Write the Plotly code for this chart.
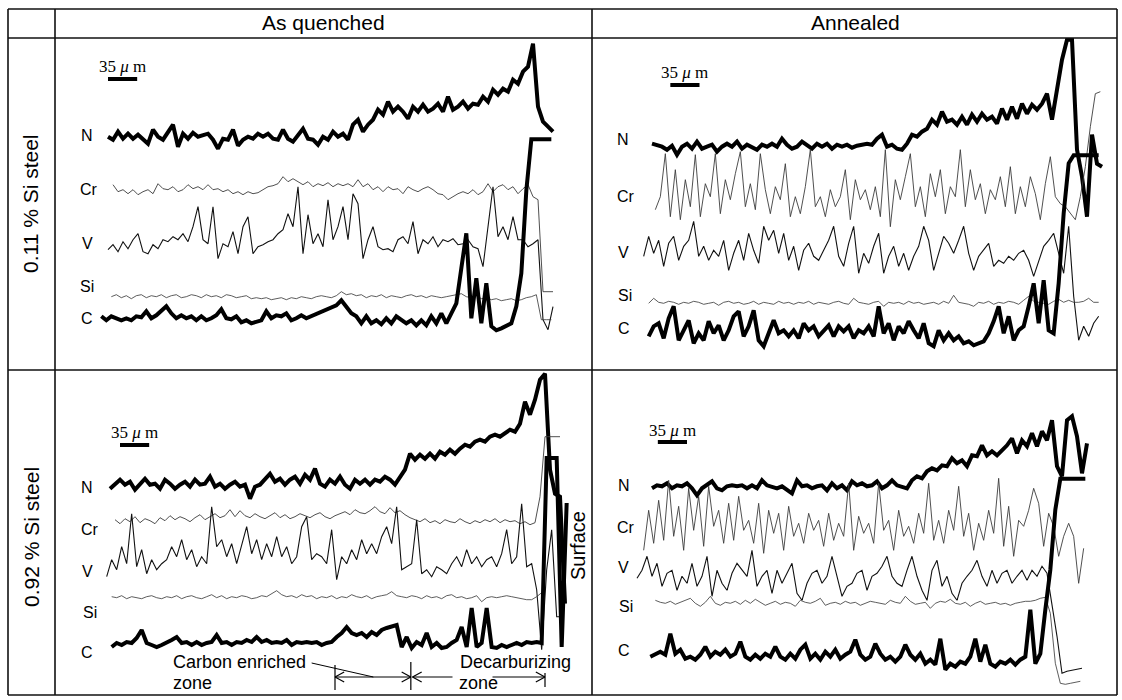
import plotly.graph_objects as go

W, H = 1122, 700
PX_PER_UM = 5 / 6          # drawing scale: 35 um ~ 29 px
STEP_UM = 6.0              # line-scan sampling step

# ---------------- data (intensity, a.u., relative to each element's level) ----------------
# 0.11 % Si steel, as quenched
TL_N = [0, -3, 5, -2, 3, -2, 2, -3, -7, 7, 0, -3, 5, 12, -10, 3, -2, 4, 0, 2, 3, -3, -12, -2, -3, 7, -9, -3, 0, -2,
        3, 0, 3, -2, -3, 7, -2, -5, 2, 8, -2, -3, -8, 0, -3, 5, 0, 3, -3, 12, 17, 5, 12, 17, 27, 22, 35, 25, 30, 25,
        18, 30, 25, 32, 25, 28, 33, 25, 40, 27, 30, 35, 28, 33, 32, 40, 35, 47, 42, 48, 45, 57, 53, 65, 70, 93, 30, 15, 10, 5]
TL_CR = [6, -1, 1, -3, 1, -4, -1, 1, -3, 7, 2, 1, 4, -1, 1, 6, 2, 4, 1, 6, 1, 2, -1, 1, -3, -1, -4, -1, -3, -2,
         1, 4, 5, 7, 14, 9, 12, 9, 6, 9, 4, 7, 5, 8, 4, 7, 5, 7, 4, 11, 4, 7, 1, 4, -1, 4, 1, 2, -3, 4,
         1, -1, 2, 4, 1, -3, -4, -9, -6, -3, -1, -3, 1, -4, -1, 7, -1, 4, 6, 1, 4, -3, 2, 6, -6, -9, -101, -101, -101]
TL_V = [-3, 2, -5, 5, -2, 7, 13, -5, -7, 2, -2, 7, 5, 10, 7, 13, 5, 20, 40, 7, 3, 40, -12, 3, 0, 15, -7, 20, 30, -7,
        0, 2, 5, 7, 13, 17, 33, 20, 60, -7, 32, 3, 13, 0, 47, 7, 20, 40, 7, 53, 43, -12, 7, 20, 0, -3, -2, -5, 7, 10,
        3, 25, -7, 7, 3, 10, 0, 7, 5, 8, 2, 3, 7, 0, -2, -20, 20, 60, 10, 20, 7, 30, 7, 7, 0, 3, 7, -73, -83, -60]
TL_SI = [0, 2, -1, 1, -2, 1, 2, -1, 1, 0, 2, -1, 1, 2, -1, 0, 2, 1, -1, 2, 0, 1, -1, 2, 1, -1, 0, 1, -2, -1,
         -2, -1, -3, -2, -1, -3, -1, -2, 0, -1, -2, 0, 1, 0, -1, 1, 5, 2, 3, 1, 2, -1, 1, 0, 2, -1, 1, 0, -1, 1,
         2, 0, 1, -1, 1, 0, -1, 0, 1, 2, 3, 0, -1, 1, -2, -1, -3, -2, -4, -3, -2, -4, -3, -1, 0, 2, -23, -23, -23]
TL_C = [2, -2, 2, 0, -2, 0, -2, 2, 1, 7, 0, 3, 7, 12, 5, 0, 3, 0, 2, -2, 2, -2, 0, 3, 9, 0, -1, 2, -4, -2,
        -5, -3, -2, 7, 0, 3, 2, 5, -2, 0, 3, 0, 2, 5, 7, 8, 10, 13, 18, 12, 5, 2, -5, 2, -5, -2, -6, 0, -5, 2,
        -2, -5, -2, -7, -2, -7, 2, -5, 5, -5, 5, 15, 50, 85, 0, 40, -5, 35, -8, -12, -10, -8, -5, 12, 45, 128,
        179, 179, 179, 179, 179]

# 0.11 % Si steel, annealed
TR_N = [3, 2, 0, -3, 1, -8, 0, 3, -2, 5, -2, 0, 2, -5, 0, 3, 0, 5, -2, 2, 0, -3, 2, 0, 3, 0, 8, 2, -2, 0,
        5, 2, -2, 3, 0, 3, -2, 2, 0, 2, -1, 1, 2, 3, 2, 8, 12, 0, 2, -2, -3, 3, 12, 10, 15, 18, 27, 22, 35, 25,
        27, 22, 30, 22, 32, 25, 33, 27, 30, 23, 38, 27, 40, 28, 43, 33, 42, 37, 43, 53, 27, 57, 87, 107, 107,
        -3, -30, -70, 12, -17, -20]
TR_CR = [-3, 10, 53, -10, 37, -13, 27, 0, 52, -10, 23, 10, 53, -7, 27, 7, 33, 55, 0, 23, -3, 53, 17, -7, 20, 7, 43, -10, 10, -7,
         20, 57, 0, 10, -10, 17, 0, 10, 37, -13, 27, 7, 17, -3, 20, -10, 57, -20, 27, 7, 30, 53, 0, 20, -10, 33, 10, 37, -7, 20,
         10, 57, 0, 37, 7, 23, -7, 17, 7, 30, 0, 40, -7, 20, 0, 30, 13, -13, 23, 50, 10, 3, 0, -7, -13, 10, 40, 80, 113, 115]
TR_V = [-3, 17, 0, 13, -13, 10, 17, -7, 7, 13, 32, -3, 7, -7, 3, -3, 13, -17, 0, 13, -7, 20, 3, -10, 27, 13, 23, 0, 20, -7,
        7, -17, 3, 10, -3, -7, 3, 13, 27, -3, -13, 10, 27, -20, 0, -10, 7, 20, -20, -3, 7, -13, 0, -17, -3, 7, 27, 13, -17, 0,
        17, 10, 0, 13, 27, 0, -17, -3, 3, 10, -13, -7, -10, -3, -7, 0, 3, -7, -23, -7, 7, 13, 20, 0, -20, 27,
        -43, -87, -73, -83, -70, -63]
TR_SI = [0, 5, 1, 0, 2, 1, -1, 1, 0, 2, 1, -1, 0, 1, -2, 1, 2, 0, 1, -1, 0, 2, -1, 1, 0, -1, 2, 0, 1, -1,
         1, 0, 2, -1, 1, 0, -1, 1, 2, 0, -1, 5, 1, 0, -1, 1, 2, -3, 1, 0, 1, -1, 2, 0, 1, -1, 0, 1, -1, 2,
         0, 8, 1, 0, -1, -3, 1, 0, 2, -1, 1, 0, 2, 1, -1, 3, 7, 2, 1, 0, -1, 2, 4, 1, 3, 1, 1, 2, 5, 1, 1]
TR_C = [-3, 7, 10, -5, 15, 27, -7, 3, 13, -10, 0, -7, 12, 0, 8, -7, 3, 17, 22, -3, 7, 23, -7, -13, 0, 13, 0, 3, -3, 3,
        -5, 10, 3, 7, -3, 3, 8, -3, 7, 2, 7, -5, 3, 0, 7, -3, 27, 0, 10, -7, 7, 0, 12, 3, -5, 10, -10, -13, 3, -7,
        0, -7, -3, -10, -8, -12, -10, -8, 0, 12, 27, 0, 17, -7, 3, 7, 27, 50, 10, 53, 3, 0, 50, 120, 170,
        178, 178, 178, 178, 178, 178]

# 0.92 % Si steel, as quenched
BL_N = [-2, 3, 7, 2, 5, -3, 2, 8, 2, 3, -2, 7, 3, -2, 2, 5, 0, 7, 2, 3, 10, 0, 3, -2, 2, 5, 0, 2, -12, 0,
        2, 7, 13, 5, 8, 2, 7, 10, 3, 12, 7, 18, 3, 0, 7, 3, 10, 2, -2, 7, 3, 7, 2, 7, 5, 10, 7, 2, 10, 17,
        33, 27, 32, 28, 33, 28, 35, 32, 37, 33, 38, 42, 40, 45, 47, 45, 50, 52, 50, 53, 57, 55, 63, 85, 72, 87,
        107, 113, 17, -7, -10, -117]
BL_CR = [2, -2, 3, 0, 5, -1, 3, 1, -2, 4, 1, 6, 2, 5, 3, 0, 4, 7, 2, 5, 8, 4, 6, 12, 5, 11, 6, 4, 8, 5,
         3, 6, 9, 4, 7, 3, 5, 8, 6, 4, 7, 9, 5, 3, 6, 8, 10, 7, 12, 9, 8, 11, 15, 10, 8, 14, 9, 11, 7, 4,
         2, 0, 3, -1, 1, -2, 2, 0, -1, 3, 0, -2, 1, -1, 2, 0, 3, -1, 2, 0, 1, -2, 0, -3, -1, 25, 85, 85, 85, 85]
BL_V = [-10, 7, -3, 20, 3, 53, 0, 17, -7, 7, -3, 3, 7, 20, 10, 27, 7, 17, 0, 10, 3, 60, 20, 27, 10, 23, 3, 23, 40, 13,
        27, 7, 23, 10, 30, 10, 20, 3, 10, 40, 50, 7, 13, 10, 3, 37, -13, 10, 3, 17, 7, 27, 13, 23, 13, 30, 40, 23, 60, -3,
        0, 3, 47, -7, -3, -10, 0, -3, -7, 3, 10, 0, 17, 3, 10, 0, 7, 10, 0, 13, 37, 3, 10, 63, 0, 3, -23, -83, -3, 37,
        -50, -50]
BL_SI = [1, 0, 2, -1, 1, 0, -1, 1, 2, 0, -1, 1, 0, 2, -1, 1, 2, 0, -1, 1, 3, 0, 2, -1, 1, 0, 2, 1, -1, 0,
         2, 1, 4, 7, 3, 1, 2, 0, 3, 1, 2, -1, 1, 0, 2, -1, 1, 0, 3, 1, 0, 2, -1, 1, 2, 3, 6, 2, 1, 0,
         2, 1, -1, 2, 0, 1, -1, 2, 3, 0, 1, -1, 0, 2, -4, 0, 1, 0, 1, 2, 1, 0, -1, -2, -2, 1, 5]
BL_C = [-2, 2, 0, 3, 2, 7, 15, 2, 0, -2, 0, 2, 5, 8, 2, 3, 0, 3, 0, 2, 3, 10, 2, 3, 0, 3, 2, 5, 3, 8,
        3, 5, 2, 3, 2, 5, 0, 3, 2, 3, 2, 3, 0, 2, 3, 8, 12, 18, 12, 10, 12, 8, 13, 10, 15, 17, 18, 20, -2, 8,
        -3, 3, 0, 12, -2, 2, -3, -2, 2, 5, 18, -2, 37, -2, 2, 37, -2, -3, 0, -2, 0, 2, 0, 3, 2, 3, 2,
        187, 187, 187, -2, 142]

# 0.92 % Si steel, annealed
BR_N = [-1, 2, 1, 4, -1, 2, 1, 4, -1, -8, -1, 2, 6, -1, -3, 1, 2, 1, 2, -1, 2, -1, 7, 2, 1, -1, 1, -3, -6, 7,
        1, 2, -1, 1, 2, -3, 4, -1, 2, -3, 6, 2, 4, 1, 2, 6, -1, 2, 7, 2, 1, -1, 7, 11, 9, 16, 19, 17, 22, 21,
        29, 24, 27, 21, 32, 31, 42, 32, 36, 32, 37, 42, 49, 34, 47, 41, 54, 41, 56, 47, 67, 21, 11, 67, 71, 51, 14, 44]
BR_CR = [-17, 23, -10, 33, -7, 53, -3, 27, -17, 45, 3, 37, -13, 47, 7, 23, -10, 30, -7, 37, 3, 13, -10, 30, -20, 23, 0, 20, -17, 27,
         -3, 10, -10, 20, 3, 13, -13, 20, -7, 10, -3, 50, -17, 17, 0, 10, -10, 50, 3, 13, -17, 23, -3, 7, -10, 20, 0, 50, -7, 13,
         -10, 23, 3, 47, -3, 20, -17, 10, -7, 23, 0, 55, -13, 27, -23, 13, 7, 23, 45, 30, -13, 20, 7,
         -23, -3, 10, -3, -50, -15]
BR_V = [5, 13, 27, 7, 20, -3, 10, 13, -7, 7, 0, 20, -3, 7, 27, -13, 13, 0, -7, 10, 20, 13, 7, 33, -3, 7, 13, -10, 13, 0,
        10, 20, -10, -17, 0, 10, 13, 0, 7, 27, 7, -13, -3, 0, 10, 13, -7, 7, 10, 17, 27, 7, 0, -3, 13, 27, 7, -7, -17, 13,
        23, -3, 7, -10, -17, 0, 7, 13, 23, 7, -3, 13, 0, 10, 13, 0, 7, 13, 3, 13, 7, 17, 10,
        -20, -53, -90, -88, -87, -86, -85]
BR_SI = [3, 1, 0, 2, -1, 1, 3, 5, 0, -3, 1, 7, 0, -2, 1, 0, 2, -1, 3, 0, 4, 1, -2, 0, 2, -1, 1, 0, -3, 3,
         1, 0, 2, 5, -2, 0, 1, -1, 2, 0, 1, -2, 0, 2, 1, 0, -1, 3, 1, 0, 7, 2, -1, 0, 1, -5, 0, 2, 1, 4,
         0, -1, 1, -3, 0, 2, -1, 0, 1, -1, 0, -2, 0, 1, 2, 2, 3, 5, 6, -10, -60, -80, -81, -80, -79, -78]
BR_C = [0, 3, 5, 2, 23, 3, 7, -2, 0, -3, 2, 10, 0, 5, 2, 7, 0, 3, 15, 0, -3, 2, -2, 3, 0, 10, 0, -3, 3, -2,
        7, 12, -2, 3, -3, 5, 0, 7, -2, 2, 5, 17, 2, -3, 0, 13, 3, -3, 0, -5, 0, 12, 2, -3, 3, -7, -3, -8, 18, -13,
        -7, -10, -5, -7, 0, 18, -5, 12, -7, -10, -5, -7, -3, -8, -3, 0, 47, -7, 3, 47, 87, 147,
        178, 178, 178, 178, 178, 178]

CARBON_ENRICHED_ZONE_UM = [270, 361]
DECARBURIZING_ZONE_UM = [361, 522]
SCALE_BAR_UM = 35

ELEMENTS = ["N", "Cr", "V", "Si", "C"]
STYLE = {
    "N": dict(color="#000000", width=4.0),
    "Cr": dict(color="#3c3c3c", width=0.9),
    "V": dict(color="#111111", width=1.1),
    "Si": dict(color="#333333", width=0.8),
    "C": dict(color="#000000", width=4.0),
}

# layout geometry (pixels) -------------------------------------------------
PANELS = [
    dict(cell=(55, 38, 592, 370), origin=108,
         data={"N": TL_N, "Cr": TL_CR, "V": TL_V, "Si": TL_SI, "C": TL_C},
         start={"N": 0, "Cr": 6, "V": 0, "Si": 4, "C": -8},
         base={"N": 136.7, "Cr": 190.7, "V": 246.7, "Si": 296.7, "C": 318.3},
         labels={"N": (87, 135), "Cr": (89, 189), "V": (87, 244), "Si": (87, 287), "C": (87, 318)},
         bar=(0, 79, 67)),
    dict(cell=(592, 38, 1117, 370), origin=652,
         data={"N": TR_N, "Cr": TR_CR, "V": TR_V, "Si": TR_SI, "C": TR_C},
         start={"N": 0, "Cr": 4, "V": -10, "Si": -4, "C": -4},
         base={"N": 146.7, "Cr": 206.7, "V": 253.3, "Si": 303.3, "C": 333.3},
         labels={"N": (623, 140), "Cr": (626, 197), "V": (623, 252), "Si": (625, 295), "C": (624, 328)},
         bar=(22, 85, 73)),
    dict(cell=(55, 370, 592, 695), origin=110,
         data={"N": BL_N, "Cr": BL_CR, "V": BL_V, "Si": BL_SI, "C": BL_C},
         start={"N": 0, "Cr": 6, "V": -4, "Si": 2, "C": 2},
         base={"N": 486.7, "Cr": 521.7, "V": 566.7, "Si": 597.7, "C": 645.0},
         labels={"N": (87, 487), "Cr": (90, 529), "V": (87, 571), "Si": (90, 612), "C": (87, 652)},
         bar=(12, 445, 432)),
    dict(cell=(592, 370, 1117, 695), origin=652,
         data={"N": BR_N, "Cr": BR_CR, "V": BR_V, "Si": BR_SI, "C": BR_C},
         start={"N": 0, "Cr": -10, "V": -18, "Si": 4, "C": -2},
         base={"N": 487.3, "Cr": 533.3, "V": 583.3, "Si": 603.3, "C": 656.7},
         labels={"N": (624, 485), "Cr": (626, 527), "V": (623, 567), "Si": (626, 606), "C": (624, 650)},
         bar=(7, 442, 430)),
]

FONT = "Liberation Sans, Arial, Helvetica, sans-serif"
SERIF = "Liberation Serif, Times New Roman, serif"


def px(x):
    return x / W


def py(y):
    return 1 - y / H


fig = go.Figure()
layout = dict(width=W, height=H, margin=dict(l=0, r=0, t=0, b=0),
              paper_bgcolor="white", plot_bgcolor="rgba(0,0,0,0)", showlegend=False)
annotations = []
shapes = []

for k, p in enumerate(PANELS, start=1):
    sfx = "" if k == 1 else str(k)
    cl, ct, cr, cb = p["cell"]
    o = p["origin"]
    layout["xaxis" + sfx] = dict(domain=[px(cl), px(cr)],
                                 range=[(cl - o) / PX_PER_UM, (cr - o) / PX_PER_UM],
                                 visible=False, fixedrange=True, anchor="y" + sfx)
    layout["yaxis" + sfx] = dict(domain=[py(cb), py(ct)], range=[0, cb - ct],
                                 visible=False, fixedrange=True, anchor="x" + sfx)
    for el in ELEMENTS:
        vals = p["data"][el]
        off = cb - p["base"][el]
        xs = [p["start"][el] + STEP_UM * i for i in range(len(vals))]
        ys = [off + v for v in vals]
        fig.add_trace(go.Scatter(x=xs, y=ys, mode="lines", name=el,
                                 line=dict(color=STYLE[el]["color"], width=STYLE[el]["width"]),
                                 xaxis="x" + sfx, yaxis="y" + sfx, hoverinfo="skip"))
        lx, ly = p["labels"][el]
        annotations.append(dict(x=px(lx), y=py(ly), xref="paper", yref="paper", text=el,
                                showarrow=False, xanchor="center", yanchor="middle",
                                font=dict(family=FONT, size=16, color="black")))
    # scale bar (35 um)
    b0, bar_y, txt_y = p["bar"]
    shapes.append(dict(type="line", xref="x" + sfx, yref="y" + sfx,
                       x0=b0, x1=b0 + SCALE_BAR_UM, y0=cb - bar_y, y1=cb - bar_y,
                       line=dict(color="black", width=4)))
    annotations.append(dict(x=b0 + SCALE_BAR_UM / 2, y=cb - txt_y, xref="x" + sfx, yref="y" + sfx,
                            text="35 <i>μ</i> m", showarrow=False, xanchor="center", yanchor="middle",
                            font=dict(family=SERIF, size=17, color="black")))

# table grid
GRID = [
    (8, 9, 1117, 9), (8, 695, 1117, 695), (8, 9, 8, 695), (1117, 9, 1117, 695),
    (8, 38, 1117, 38), (8, 370, 1117, 370), (55, 9, 55, 695), (592, 9, 592, 695),
]
for x0, y0, x1, y1 in GRID:
    shapes.append(dict(type="line", xref="paper", yref="paper", x0=px(x0), x1=px(x1), y0=py(y0), y1=py(y1),
                       line=dict(color="#111111", width=1.6)))

# headers and row labels
for text, x, y in [("As quenched", 323, 23), ("Annealed", 855, 23)]:
    annotations.append(dict(x=px(x), y=py(y), xref="paper", yref="paper", text=text, showarrow=False,
                            xanchor="center", yanchor="middle", font=dict(family=FONT, size=21, color="black")))
for text, y in [("0.11 % Si steel", 204), ("0.92 % Si steel", 537)]:
    annotations.append(dict(x=px(31), y=py(y), xref="paper", yref="paper", text=text, showarrow=False,
                            textangle=-90, xanchor="center", yanchor="middle",
                            font=dict(family=FONT, size=21, color="black")))

# "Surface" and zone annotations (0.92 % Si, as quenched)
annotations.append(dict(x=px(578), y=py(546), xref="paper", yref="paper", text="Surface", showarrow=False,
                        textangle=-90, xanchor="center", yanchor="middle",
                        font=dict(family=FONT, size=20, color="black")))
for text, x, y in [("Carbon enriched", 171, 662), ("zone", 171, 683), ("Decarburizing", 458, 662), ("zone", 457, 683)]:
    annotations.append(dict(x=px(x), y=py(y), xref="paper", yref="paper", text=text, showarrow=False,
                            xanchor="left", yanchor="middle", font=dict(family=FONT, size=18, color="black")))

xr, yr = "x3", "y3"
ce0, ce1 = CARBON_ENRICHED_ZONE_UM
dz0, dz1 = DECARBURIZING_ZONE_UM
ARW_Y = 18
HEAD_DX, HEAD_DY = 11, 5


def seg(x0, y0, x1, y1, w=1.2):
    shapes.append(dict(type="line", xref=xr, yref=yr, x0=x0, y0=y0, x1=x1, y1=y1,
                       line=dict(color="black", width=w)))


# vertical ticks at zone boundaries
seg(ce0, 5, ce0, 30)
seg(ce1, 5, ce1, 33)
seg(dz1, 8, dz1, 22)
# carbon enriched double arrow
seg(ce0, ARW_Y, ce1, ARW_Y)
for xa, d in [(ce0, 1), (ce1, -1), (dz0 + 2, 1), (dz1, -1)]:
    seg(xa, ARW_Y, xa + d * HEAD_DX, ARW_Y + HEAD_DY)
    seg(xa, ARW_Y, xa + d * HEAD_DX, ARW_Y - HEAD_DY)
# decarburizing arrow (broken by the word "zone")
seg(dz0 + 2, ARW_Y, dz0 + 50, ARW_Y)
seg(dz0 + 98, ARW_Y, dz1, ARW_Y)
# leader from "Carbon enriched" label
seg(242, 32, 316, ARW_Y, w=1.0)

layout["annotations"] = annotations
layout["shapes"] = shapes
fig.update_layout(**layout)
fig.write_html("out.html")
